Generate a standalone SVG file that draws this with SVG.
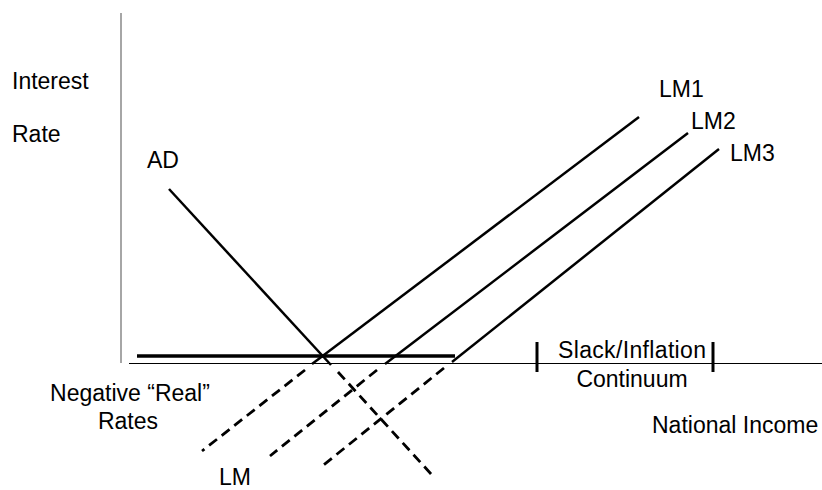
<svg xmlns="http://www.w3.org/2000/svg" width="822" height="490" viewBox="0 0 822 490">
<style>
text{font-family:"Liberation Sans",Arial,sans-serif;font-size:23px;fill:#000}
.solid{stroke:#000;stroke-width:2.5;fill:none}
.dash{stroke:#000;stroke-width:2.8;fill:none;stroke-dasharray:10,6}
</style>
<rect width="822" height="490" fill="#fff"/>
<g id="axes">
<line x1="121" y1="13" x2="121" y2="363" stroke="#888" stroke-width="1.5"/>
<line x1="129" y1="363.5" x2="822" y2="363.5" stroke="#000" stroke-width="1.2"/>
<line x1="137" y1="356" x2="455" y2="356" stroke="#000" stroke-width="3.5"/>
<line x1="537" y1="342" x2="537" y2="372" stroke="#000" stroke-width="3"/>
<line x1="713" y1="342" x2="713" y2="372" stroke="#000" stroke-width="3"/>
</g>
<g id="connectors">
<g id="AD">
<line class="solid" x1="169" y1="189" x2="331" y2="365"/>
<line class="dash" x1="338" y1="372" x2="432" y2="475"/>
</g>
<g id="LM1">
<line class="solid" x1="639" y1="117" x2="312" y2="364"/>
<line class="dash" x1="305" y1="370" x2="202" y2="451"/>
</g>
<g id="LM2">
<line class="solid" x1="688" y1="133" x2="385" y2="364"/>
<line class="dash" x1="377" y1="370" x2="270" y2="456"/>
</g>
<g id="LM3">
<line class="solid" x1="719" y1="149" x2="452" y2="362"/>
<line class="dash" x1="444" y1="368" x2="321" y2="467"/>
</g>
</g>
<g id="labels">
<text x="12" y="89">Interest</text>
<text x="12" y="142">Rate</text>
<text x="147" y="168">AD</text>
<text x="659" y="97">LM1</text>
<text x="691" y="129">LM2</text>
<text x="730" y="161">LM3</text>
<text x="130" y="401" text-anchor="middle">Negative “Real”</text>
<text x="128" y="429" text-anchor="middle">Rates</text>
<text x="652" y="433">National Income</text>
<text x="219" y="485">LM</text>
<text x="558" y="358" textLength="148">Slack/Inflation</text>
<text x="632" y="387" text-anchor="middle">Continuum</text>
</g>
</svg>
